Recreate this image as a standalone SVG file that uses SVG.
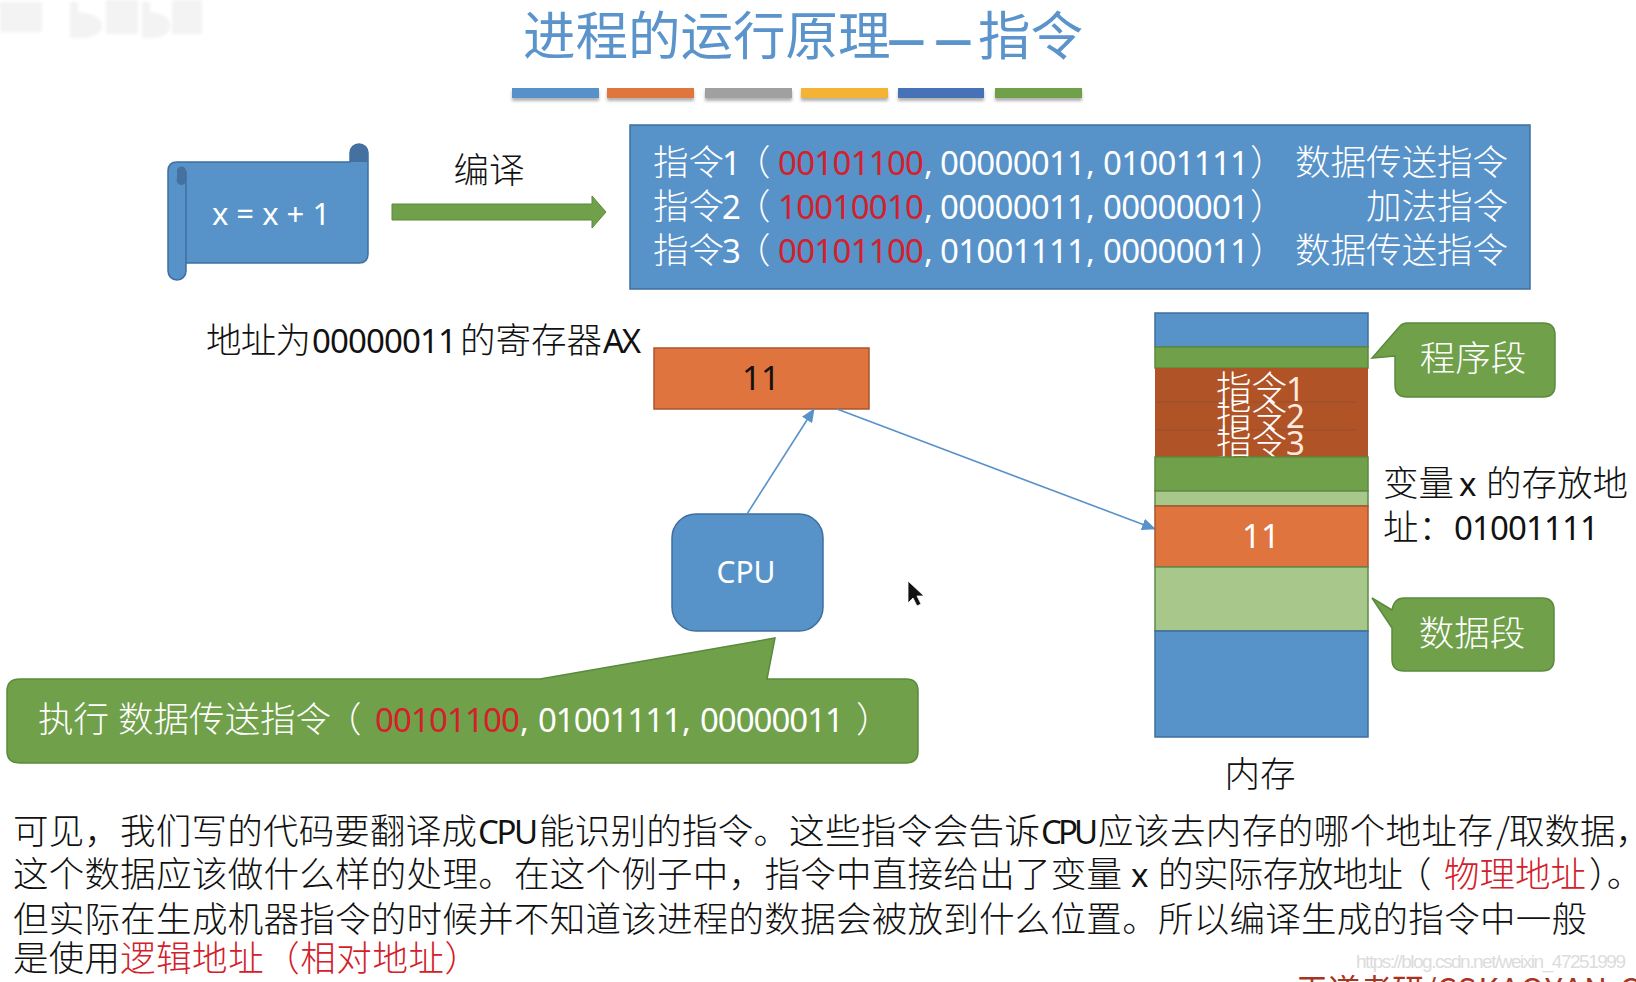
<svg xmlns="http://www.w3.org/2000/svg" width="1636" height="982" viewBox="0 0 1636 982">
  <style>
    text { font-family: "Noto Sans", "Noto Sans CJK SC", sans-serif; font-size: 33px; fill: #111; }
    .cjk { font-family: "Noto Sans CJK SC", sans-serif; font-weight: 300; font-size: 35.5px; }
    .w { fill: #fff; }
    .r { fill: #d3202a; }
    .mid { text-anchor: middle; }
    .body { font-family: "Noto Sans CJK SC", sans-serif; font-weight: 300; font-size: 35.5px; }
    .lat { font-size: 33px; }
    .head { font-size: 52.5px; fill: #5b93cb; font-weight: 400; }
    .dash { font-size: 42px; fill: #5b93cb; font-weight: 900; }
    .blue { fill: #5792c9; stroke: #3f6f9f; stroke-width: 1.5; }
    .green { fill: #70a04a; stroke: #5a8a3c; stroke-width: 1.5; }
    .lgreen { fill: #a8c78a; stroke: #5f8a4a; stroke-width: 1.5; }
    .orange { fill: #e0743e; stroke: #a9552c; stroke-width: 1.5; }
    .dorange { fill: #b05327; }
    .link { fill: none; stroke: #5792c9; stroke-width: 1.6; marker-end: url(#tip); }
  </style>
  <defs>
    <marker id="tip" markerUnits="userSpaceOnUse" markerWidth="14" markerHeight="12" refX="13" refY="6" orient="auto">
      <path d="M0 0L14 6L0 12Z" fill="#5792c9"/>
    </marker>
    <filter id="soft" x="-10%" y="-50%" width="120%" height="200%"><feGaussianBlur stdDeviation="1.5"/></filter>
    <filter id="bar-shadow" x="-5%" y="-50%" width="110%" height="250%"><feDropShadow dx="0" dy="3" stdDeviation="1.5" flood-color="#000" flood-opacity=".3"/></filter>
    <clipPath id="seg"><rect x="1155" y="368" width="213" height="89"/></clipPath>
  </defs>
  <rect width="1636" height="982" fill="#fff"/>

  <!-- faint logo mark in the corner -->
  <g id="corner-mark" fill="#f3f3f3" filter="url(#soft)">
    <rect x="0" y="2" width="42" height="30"/>
    <path d="M70 2h8v10q24 2 24 14t-24 12h-8z"/>
    <rect x="106" y="0" width="32" height="34"/>
    <path d="M142 2h8v10q20 2 20 14t-20 12h-8z"/>
    <rect x="172" y="0" width="30" height="34"/>
  </g>

  <g id="title">
    <text class="cjk head" x="523" y="55">进程的运行原理</text>
    <text class="cjk dash" x="887" y="55">—</text>
    <text class="cjk dash" x="934" y="55">—</text>
    <text class="cjk head" x="978" y="55">指令</text>
    <g filter="url(#bar-shadow)">
      <rect x="512" y="88" width="87" height="10" fill="#5792c9"/>
      <rect x="607" y="88" width="87" height="10" fill="#e0743e"/>
      <rect x="705" y="88" width="87" height="10" fill="#a0a0a0"/>
      <rect x="801" y="88" width="87" height="10" fill="#f5b335"/>
      <rect x="898" y="88" width="86" height="10" fill="#4672b8"/>
      <rect x="995" y="88" width="87" height="10" fill="#70a04a"/>
    </g>
  </g>

  <g id="source-scroll">
    <path class="blue" d="M186 162H350V153A9 9 0 0 1 368 153V254Q368 263 359 263H186V271A9 9 0 0 1 168 271V171Q168 162 177 162Z"/>
    <path d="M350 162V153A9 9 0 0 1 368 153V162Z" fill="#44719f"/>
    <path d="M177 171A4.500 4.500 0 0 1 186 171V182A4.500 4.500 0 0 1 177 178Z" fill="#44719f"/>
    <path d="M186 171V263" fill="none" stroke="#3f6f9f" stroke-width="1.500"/>
    <text class="w mid" x="271" y="225" style="font-size:31px">x = x + 1</text>
  </g>

  <g id="compile-step">
    <text class="cjk mid" x="489" y="183">编译</text>
    <path d="M392 204H592V196L606 212L592 228V220H392Z" fill="#70a04a" stroke="#5a8a3c"/>
  </g>

  <g id="instructions">
    <rect class="blue" x="630" y="125" width="900" height="164"/>
    <text class="cjk w" x="653" y="175">指令</text><text class="w" x="722" y="175">1</text><text class="cjk w" x="735" y="175">（</text>
    <text class="r" x="778" y="175" textLength="146">00101100</text><text class="w" x="924" y="175">,</text><text class="w" x="940" y="175" textLength="146">00000011</text><text class="w" x="1086" y="175">,</text><text class="w" x="1103" y="175" textLength="146">01001111</text><text class="cjk w" x="1250" y="175">）</text>
    <text class="cjk w" x="1295" y="175">数据传送指令</text>
    <text class="cjk w" x="653" y="219">指令</text><text class="w" x="722" y="219">2</text><text class="cjk w" x="735" y="219">（</text>
    <text class="r" x="778" y="219" textLength="146">10010010</text><text class="w" x="924" y="219">,</text><text class="w" x="940" y="219" textLength="146">00000011</text><text class="w" x="1086" y="219">,</text><text class="w" x="1103" y="219" textLength="146">00000001</text><text class="cjk w" x="1250" y="219">）</text>
    <text class="cjk w" x="1366" y="219">加法指令</text>
    <text class="cjk w" x="653" y="263">指令</text><text class="w" x="722" y="263">3</text><text class="cjk w" x="735" y="263">（</text>
    <text class="r" x="778" y="263" textLength="146">00101100</text><text class="w" x="924" y="263">,</text><text class="w" x="940" y="263" textLength="146">01001111</text><text class="w" x="1086" y="263">,</text><text class="w" x="1103" y="263" textLength="146">00000011</text><text class="cjk w" x="1250" y="263">）</text>
    <text class="cjk w" x="1295" y="263">数据传送指令</text>
  </g>

  <g id="register">
    <text class="cjk" x="206" y="353" textLength="105">地址为</text><text x="312" y="353" textLength="145">00000011</text><text class="cjk" x="460" y="353" textLength="142">的寄存器</text><text x="603" y="353" textLength="38">AX</text>
    <rect class="orange" x="654" y="348" width="215" height="61"/>
    <text class="mid" x="761" y="390">11</text>
  </g>

  <g id="cpu">
    <rect class="blue" x="672" y="514" width="151" height="117" rx="24"/>
    <text class="w mid" x="746" y="583" style="font-size:30px">CPU</text>
  </g>

  <g id="connectors">
    <path class="link" d="M747 514L814 409"/>
    <path class="link" d="M837 409L1155 529"/>
  </g>

  <g id="memory">
    <rect class="blue" x="1155" y="313" width="213" height="34"/>
    <rect class="green" x="1155" y="347" width="213" height="21"/>
    <rect class="dorange" x="1155" y="368" width="213" height="89"/>
    <path d="M1155 402H1357M1155 430H1357" stroke="#97502c" stroke-width="1"/>
    <g clip-path="url(#seg)">
      <text class="cjk w" x="1216" y="401">指令</text><text x="1286" y="401" style="fill:#ffe9dc">1</text>
      <text class="cjk w" x="1216" y="428">指令</text><text x="1286" y="428" style="fill:#ffe9dc">2</text>
      <text class="cjk w" x="1216" y="455">指令</text><text x="1286" y="455" style="fill:#ffe9dc">3</text>
    </g>
    <rect class="green" x="1155" y="457" width="213" height="34"/>
    <rect class="lgreen" x="1155" y="491" width="213" height="15"/>
    <rect class="orange" x="1155" y="506" width="213" height="61"/>
    <text class="w mid" x="1261" y="548">11</text>
    <rect class="lgreen" x="1155" y="567" width="213" height="64"/>
    <rect class="blue" x="1155" y="631" width="213" height="106"/>
    <text class="cjk mid" x="1260" y="787">内存</text>
  </g>

  <g id="program-segment">
    <path class="green" d="M1407 323H1543Q1555 323 1555 335V385Q1555 397 1543 397H1407Q1395 397 1395 385V356L1372 358L1400 326Q1403 323 1407 323Z"/>
    <text class="cjk w mid" x="1473" y="371">程序段</text>
  </g>

  <g id="data-segment">
    <path class="green" d="M1404 598H1542Q1554 598 1554 610V659Q1554 671 1542 671H1404Q1392 671 1392 659V628L1372 598L1392 610Q1394 598 1404 598Z"/>
    <text class="cjk w mid" x="1472" y="646">数据段</text>
  </g>

  <g id="variable-note">
    <text class="cjk" x="1383" y="496">变量</text><text x="1459" y="496">x</text><text class="cjk" x="1486" y="496">的存放地</text>
    <text class="cjk" x="1383" y="540">址：</text><text x="1454" y="540" textLength="145">01001111</text>
  </g>

  <g id="cursor">
    <path d="M908 581V603L913 598L917 606L921 604L917 596L924 596Z" fill="#111" stroke="#fff" stroke-width=".8"/>
  </g>

  <g id="execution-callout">
    <path class="green" d="M20 679H540L775 638L767 679H906Q918 679 918 691V751Q918 763 906 763H20Q7 763 7 751V691Q7 679 20 679Z"/>
    <text class="cjk w" x="38" y="732">执行</text>
    <text class="cjk w" x="118" y="732">数据传送指令</text>
    <text class="cjk w" x="326" y="732">（</text>
    <text class="r" x="375" y="732" textLength="145">00101100</text>
    <text class="w" x="520" y="732">,</text><text class="w" x="538" y="732" textLength="144">01001111</text>
    <text class="w" x="682" y="732">,</text><text class="w" x="700" y="732" textLength="144">00000011</text>
    <text class="cjk w" x="856" y="732">）</text>
  </g>

  <g id="explanation">
    <text class="body" x="13" y="844" textLength="464">可见，我们写的代码要翻译成</text><text class="lat" x="478" y="844" textLength="60">CPU</text><text class="body" x="539" y="844" textLength="250">能识别的指令。</text><text class="body" x="789" y="844" textLength="251">这些指令会告诉</text><text class="lat" x="1041" y="844" textLength="57">CPU</text><text class="body" x="1098" y="844" textLength="395">应该去内存的哪个地址存</text><text class="body" x="1496" y="844">/</text><text class="body" x="1509" y="844">取数据，</text>
    <text class="body" x="13" y="887" textLength="1109">这个数据应该做什么样的处理。在这个例子中，指令中直接给出了变量</text><text x="1131" y="887">x</text><text class="body" x="1158" y="887" textLength="245">的实际存放地址</text><text class="body" x="1396" y="887">（</text><text class="body r" x="1444" y="887" textLength="142">物理地址</text><text class="body" x="1589" y="887">）。</text>
    <text class="body" x="13" y="932" textLength="1574">但实际在生成机器指令的时候并不知道该进程的数据会被放到什么位置。所以编译生成的指令中一般</text>
    <text class="body" x="13" y="971" textLength="107">是使用</text><text class="body r" x="120" y="971" textLength="360">逻辑地址（相对地址）</text>
  </g>

  <g id="credits">
    <text x="1356" y="968" style="font-family:'Liberation Sans',sans-serif;font-size:19px;fill:#dcdcdc" textLength="270">https://blog.csdn.net/weixin_47251999</text>
    <text class="cjk r" x="1296" y="1002" style="font-size:32px;fill:#a8341e;font-weight:400">王道考研/<tspan letter-spacing="1.500">CSKAOYAN.COM</tspan></text>
  </g>
</svg>
